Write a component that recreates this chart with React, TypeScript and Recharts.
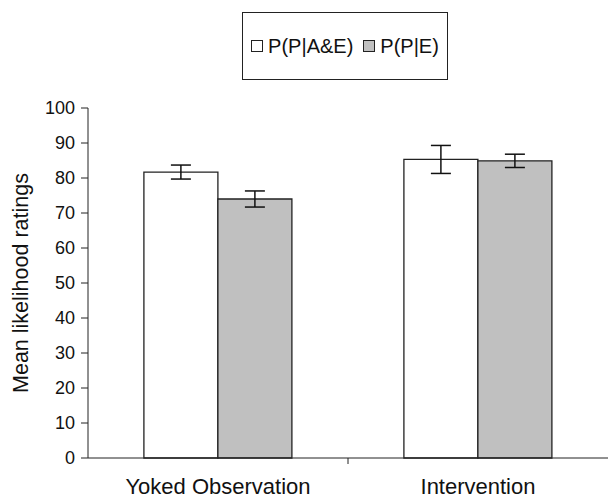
import React from "react";
import { BarChart, Bar, XAxis, YAxis, ErrorBar } from "recharts";

const categories = ["Yoked Observation", "Intervention"];
const pAE = [81.7, 85.3];
const pAEErr = [2.0, 4.0];
const pE = [74.0, 84.9];
const pEErr = [2.3, 1.9];
const yTicks = [0, 10, 20, 30, 40, 50, 60, 70, 80, 90, 100];
const seriesNames = ["P(P|A&E)", "P(P|E)"];
const seriesFills = ["#ffffff", "#c0c0c0"];

const data = categories.map((c, i) => ({
  name: c,
  ae: pAE[i],
  aeErr: pAEErr[i],
  e: pE[i],
  eErr: pEErr[i],
}));

const FONT = "'Liberation Sans', Arial, sans-serif";

const XTick = (props: any) => {
  const { x, y, payload, index } = props;
  const band = 260;
  return (
    <g>
      {index > 0 && (
        <line x1={x - band / 2} x2={x - band / 2} y1={y - 8} y2={y - 2} stroke="#222" strokeWidth={1} />
      )}
      <text x={x} y={y + 28} textAnchor="middle" fontSize={22} fill="#111" fontFamily={FONT}>
        {payload.value}
      </text>
    </g>
  );
};

const LegendBox = () => (
  <div
    style={{
      position: "absolute",
      left: 242,
      top: 12,
      width: 206,
      height: 68,
      border: "1px solid #222",
      boxSizing: "border-box",
      display: "flex",
      alignItems: "center",
      justifyContent: "center",
      fontFamily: FONT,
      fontSize: 20,
      color: "#111",
      background: "#fff",
    }}
  >
    {seriesNames.map((n, i) => (
      <React.Fragment key={n}>
        <span
          style={{
            display: "inline-block",
            width: 12,
            height: 12,
            border: "1px solid #222",
            boxSizing: "border-box",
            background: seriesFills[i],
            marginRight: 5,
            marginLeft: i > 0 ? 10 : 0,
          }}
        />
        <span>{n}</span>
      </React.Fragment>
    ))}
  </div>
);

export default function App() {
  return (
    <div style={{ position: "absolute", left: 0, top: 0, width: 610, height: 500, background: "#fff" }}>
      <BarChart
        width={610}
        height={500}
        data={data}
        margin={{ top: 108, right: 2, bottom: 12, left: 0 }}
        barCategoryGap="21.5%"
        barGap={0}
      >
        <XAxis
          dataKey="name"
          height={30}
          axisLine={{ stroke: "#222" }}
          tickLine={false}
          tick={<XTick />}
          interval={0}
        />
        <YAxis
          domain={[0, 100]}
          ticks={yTicks}
          width={88}
          axisLine={{ stroke: "#222" }}
          tickLine={{ stroke: "#222" }}
          tickSize={7}
          tickMargin={6}
          tick={{ fontSize: 18, fill: "#111", fontFamily: FONT }}
          interval={0}
          label={{
            content: (p: any) => {
              const vb = p.viewBox;
              const cx = 21;
              const cy = vb.y + vb.height / 2;
              return (
                <text
                  x={cx}
                  y={cy}
                  transform={`rotate(-90, ${cx}, ${cy})`}
                  textAnchor="middle"
                  dominantBaseline="central"
                  fontSize={21.5}
                  fill="#111"
                  fontFamily={FONT}
                >
                  Mean likelihood ratings
                </text>
              );
            },
          }}
        />
        <Bar dataKey="ae" name={seriesNames[0]} fill={seriesFills[0]} stroke="#222" strokeWidth={1.3} isAnimationActive={false}>
          <ErrorBar dataKey="aeErr" width={10} stroke="#111" strokeWidth={1.5} direction="y" />
        </Bar>
        <Bar dataKey="e" name={seriesNames[1]} fill={seriesFills[1]} stroke="#222" strokeWidth={1.3} isAnimationActive={false}>
          <ErrorBar dataKey="eErr" width={10} stroke="#111" strokeWidth={1.5} direction="y" />
        </Bar>
      </BarChart>
      <LegendBox />
    </div>
  );
}
